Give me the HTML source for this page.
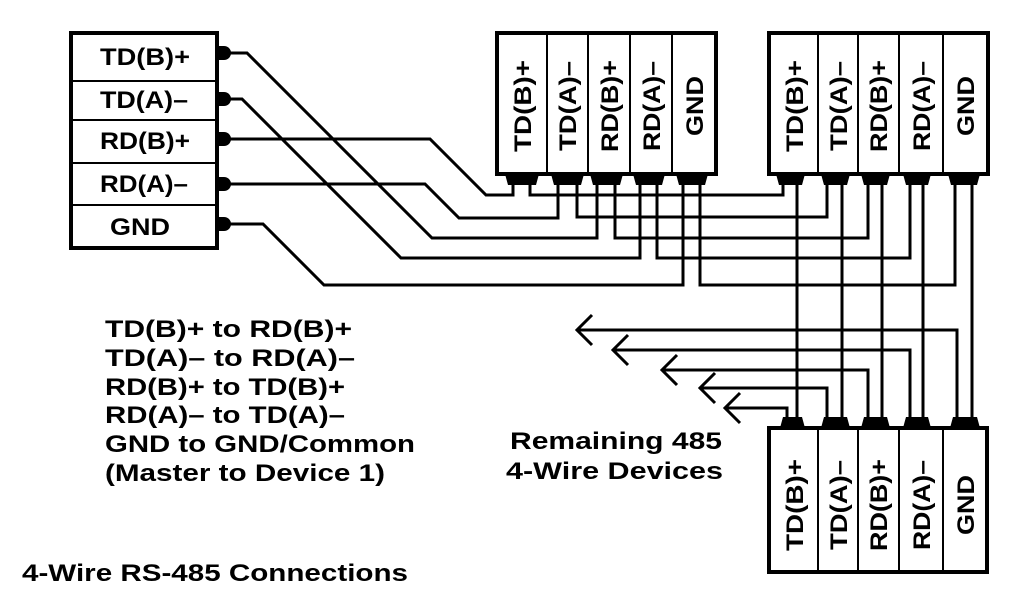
<!DOCTYPE html>
<html><head><meta charset="utf-8"><style>
html,body{margin:0;padding:0;background:#fff}
svg{display:block}
text{font-family:"Liberation Sans",Arial,sans-serif;font-weight:bold;fill:#000}
</style></head><body>
<svg width="1024" height="600" viewBox="0 0 1024 600" xmlns="http://www.w3.org/2000/svg">
<rect width="1024" height="600" fill="#fff"/>
<g stroke="#000" fill="none">
<rect x="71" y="33" width="146" height="215" stroke-width="4"/>
<path d="M71 81H217M71 120H217M71 163H217M71 205H217" stroke-width="2"/>
</g>
<g font-size="24" lengthAdjust="spacingAndGlyphs">
<text x="100" y="65" textLength="90" lengthAdjust="spacingAndGlyphs">TD(B)+</text>
<text x="100" y="108" textLength="88" lengthAdjust="spacingAndGlyphs">TD(A)–</text>
<text x="100" y="149" textLength="90" lengthAdjust="spacingAndGlyphs">RD(B)+</text>
<text x="100" y="192" textLength="88" lengthAdjust="spacingAndGlyphs">RD(A)–</text>
<text x="110" y="235" textLength="60" lengthAdjust="spacingAndGlyphs">GND</text>
</g>
<g fill="#000">
<path d="M218 46h6a7 7 0 0 1 0 14h-6z"/>
<path d="M218 92h6a7 7 0 0 1 0 14h-6z"/>
<path d="M218 132h6a7 7 0 0 1 0 14h-6z"/>
<path d="M218 177h6a7 7 0 0 1 0 14h-6z"/>
<path d="M218 217h6a7 7 0 0 1 0 14h-6z"/>
</g>
<g stroke="#000" fill="none">
<rect x="497" y="33" width="219" height="141" stroke-width="4"/>
<path d="M547 33V174M588 33V174M630 33V174M672 33V174" stroke-width="2"/>
<rect x="769" y="33" width="219" height="141" stroke-width="4"/>
<path d="M818 33V174M858 33V174M899 33V174M943 33V174" stroke-width="2"/>
<rect x="769" y="428" width="218" height="144" stroke-width="4"/>
<path d="M818 428V572M858 428V572M899 428V572M943 428V572" stroke-width="2"/>
</g>
<g font-size="24" text-anchor="middle">
<text transform="translate(531,106) rotate(-90)" textLength="92" lengthAdjust="spacingAndGlyphs">TD(B)+</text>
<text transform="translate(576,106) rotate(-90)" textLength="90" lengthAdjust="spacingAndGlyphs">TD(A)–</text>
<text transform="translate(618,106) rotate(-90)" textLength="92" lengthAdjust="spacingAndGlyphs">RD(B)+</text>
<text transform="translate(660,106) rotate(-90)" textLength="90" lengthAdjust="spacingAndGlyphs">RD(A)–</text>
<text transform="translate(703,106) rotate(-90)" textLength="60" lengthAdjust="spacingAndGlyphs">GND</text>
<text transform="translate(803,106) rotate(-90)" textLength="92" lengthAdjust="spacingAndGlyphs">TD(B)+</text>
<text transform="translate(847,106) rotate(-90)" textLength="90" lengthAdjust="spacingAndGlyphs">TD(A)–</text>
<text transform="translate(887,106) rotate(-90)" textLength="92" lengthAdjust="spacingAndGlyphs">RD(B)+</text>
<text transform="translate(930,106) rotate(-90)" textLength="90" lengthAdjust="spacingAndGlyphs">RD(A)–</text>
<text transform="translate(974,106) rotate(-90)" textLength="60" lengthAdjust="spacingAndGlyphs">GND</text>
<text transform="translate(803,505) rotate(-90)" textLength="92" lengthAdjust="spacingAndGlyphs">TD(B)+</text>
<text transform="translate(847,505) rotate(-90)" textLength="90" lengthAdjust="spacingAndGlyphs">TD(A)–</text>
<text transform="translate(887,505) rotate(-90)" textLength="92" lengthAdjust="spacingAndGlyphs">RD(B)+</text>
<text transform="translate(930,505) rotate(-90)" textLength="90" lengthAdjust="spacingAndGlyphs">RD(A)–</text>
<text transform="translate(974,505) rotate(-90)" textLength="60" lengthAdjust="spacingAndGlyphs">GND</text>
</g>
<g fill="#000">
<path d="M505 174h34l-3 11h-28z"/><path d="M551 174h33l-3 11h-27z"/><path d="M590 174h33l-3 11h-27z"/><path d="M633 174h32l-3 11h-26z"/><path d="M676 174h32l-3 11h-26z"/>
<path d="M776 174h29l-3 11h-23z"/><path d="M821 174h29l-3 11h-23z"/><path d="M861 174h29l-3 11h-23z"/><path d="M903 174h28l-3 11h-22z"/><path d="M948 174h32l-3 11h-26z"/>
<path d="M780 428h25l-3 -11h-19z"/><path d="M821 428h29l-3 -11h-23z"/><path d="M861 428h29l-3 -11h-23z"/><path d="M903 428h28l-3 -11h-22z"/><path d="M950 428h30l-3 -11h-24z"/>
</g>
<g stroke="#000" stroke-width="3" fill="none">
<path d="M222 139H430L486 195H513V183"/>
<path d="M530 183V195H783V183"/>
<path d="M222 184H425L459 218H558V183"/>
<path d="M577 183V217H827V183"/>
<path d="M222 53H247L432 238H597V183"/>
<path d="M615 183V238H868V183"/>
<path d="M222 99H242L401 258H640V183"/>
<path d="M657 183V258H910V183"/>
<path d="M222 224H263L324 285H683V183"/>
<path d="M700 183V285H955V183"/>
<path d="M797 183V420M842 183V420M882 183V420M923 183V420M972 183V420"/>
<path d="M787 420V408H725M827 420V388H700M868 420V370H662M910 420V350H613M957 420V330H577"/>
<path d="M740 393L725 408L740 423M715 373L700 388L715 403M677 355L662 370L677 385M628 335L613 350L628 365M592 315L577 330L592 345"/>
</g>
<g font-size="24">
<text x="105" y="337" textLength="247" lengthAdjust="spacingAndGlyphs">TD(B)+ to RD(B)+</text>
<text x="105" y="366" textLength="250" lengthAdjust="spacingAndGlyphs">TD(A)– to RD(A)–</text>
<text x="105" y="395" textLength="240" lengthAdjust="spacingAndGlyphs">RD(B)+ to TD(B)+</text>
<text x="105" y="423" textLength="240" lengthAdjust="spacingAndGlyphs">RD(A)– to TD(A)–</text>
<text x="105" y="452" textLength="310" lengthAdjust="spacingAndGlyphs">GND to GND/Common</text>
<text x="105" y="481" textLength="280" lengthAdjust="spacingAndGlyphs">(Master to Device 1)</text>
<text x="22" y="581" textLength="386" lengthAdjust="spacingAndGlyphs">4-Wire RS-485 Connections</text>
<text x="510" y="449" textLength="212" lengthAdjust="spacingAndGlyphs">Remaining 485</text>
<text x="506" y="479" textLength="217" lengthAdjust="spacingAndGlyphs">4-Wire Devices</text>
</g>
</svg>
</body></html>
